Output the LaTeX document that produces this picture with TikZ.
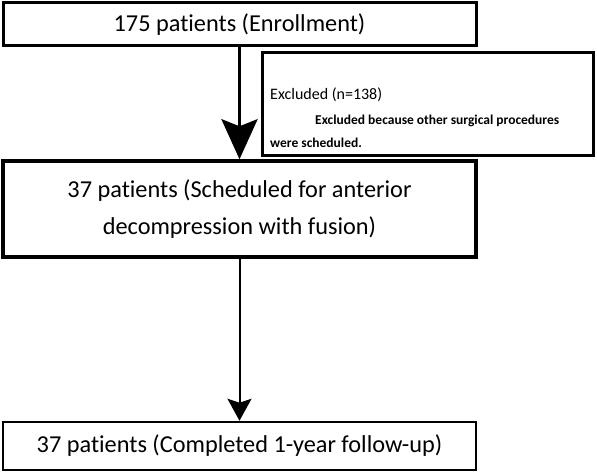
\documentclass[tikz,border=0pt]{standalone}
\usepackage{fontspec}
\setmainfont[Ligatures={NoCommon,NoRequired,NoContextual}]{Carlito}
\usetikzlibrary{arrows.meta}
\begin{document}
\begin{tikzpicture}[x=1pt,y=-1pt,
  box/.style={draw=black,line width=#1,fill=white,inner sep=0pt},
  box/.default=3pt,
  bigtxt/.style={font=\fontsize{24.3}{28}\selectfont},
  smalltxt/.style={font=\fontsize{16}{18}\selectfont},
  boldtxt/.style={font=\fontsize{13.5}{15}\selectfont\bfseries}]
\useasboundingbox (0,0) rectangle (597,476);
\node[box=3pt,minimum width=473pt,minimum height=43pt,bigtxt] (enr) at (239.5,24.5) {175 patients (Enrollment)};
\node[box=2.5pt,minimum width=331pt,minimum height=103pt] (exc) at (428,104) {};
\node[box=3.5pt,minimum width=473pt,minimum height=96pt,bigtxt,align=center] (sched) at (239.5,209) {37 patients (Scheduled for anterior\\[9pt]decompression with fusion)};
\node[box=2.5pt,minimum width=473pt,minimum height=48pt,bigtxt] (fu) at (239.5,446) {37 patients (Completed 1-year follow-up)};
\node[smalltxt,anchor=base west,inner sep=0pt] (t1) at (270,100) {Excluded (n=138)};
\node[boldtxt,anchor=base west,inner sep=0pt] (t2) at (315,125) {Excluded because other surgical procedures};
\node[boldtxt,anchor=base west,inner sep=0pt] (t3) at (270,148) {were scheduled.};
\draw[line width=3.5pt,-{Stealth[width=36pt,length=40pt,inset=7pt]}] (enr.south) -- (sched.north);
\draw[line width=2pt,-{Stealth[width=24pt,length=22pt,inset=4pt]}] (sched.south) -- (fu.north);
\end{tikzpicture}
\end{document}
